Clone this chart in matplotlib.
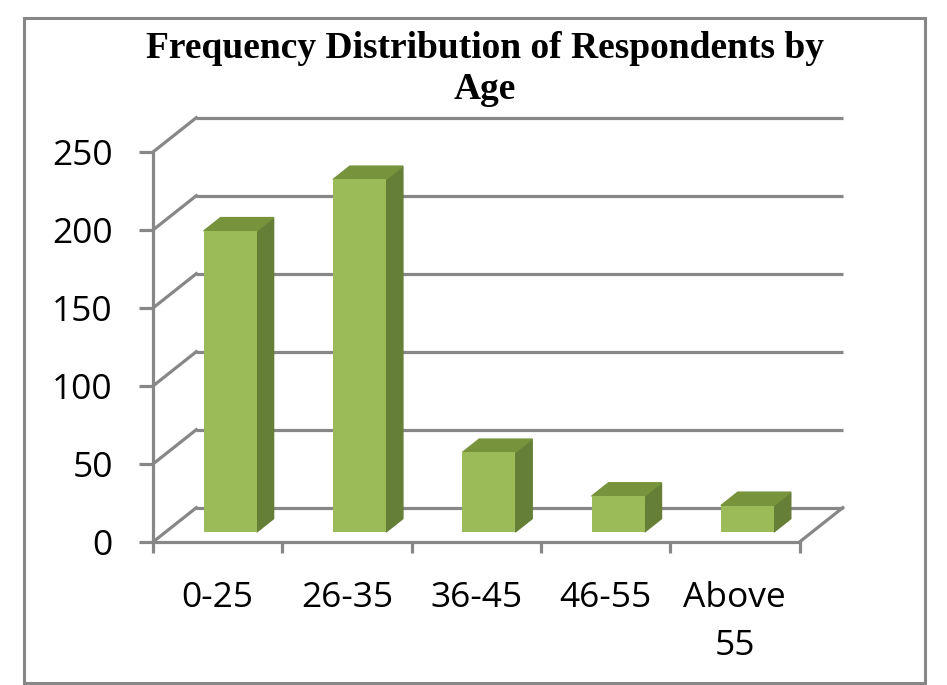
import matplotlib
matplotlib.use("Agg")
import matplotlib.pyplot as plt
import numpy as np
from matplotlib.patches import Polygon, Rectangle

categories = ["0-25", "26-35", "36-45", "46-55", "Above\n55"]
counts = [193, 226, 51, 23, 17]
y_ticks = [0, 50, 100, 150, 200, 250]

GRAY = "#878787"
FRONT = "#9bbb59"
SIDE = "#657f36"
TOP = "#77933c"

# fake 3d: depth of the floor in (category, value) units
DX, DY = 0.335, 22.0
# bars sit between these fractions of the depth
F0, F1 = 0.29, 0.68
BAR_W = 0.41

fig = plt.figure(figsize=(9.47, 6.85), dpi=100)
W, H = 947, 685
ax = fig.add_axes([153 / W, 1 - 542 / H, 646.5 / W, 390 / H])
ax.set_xlim(-0.5, 4.5)
ax.set_ylim(0, 250)
ax.patch.set_visible(False)
for s in ["top", "right"]:
    ax.spines[s].set_visible(False)
for s in ["left", "bottom"]:
    ax.spines[s].set_color(GRAY)
    ax.spines[s].set_linewidth(2.3)
    ax.spines[s].set_zorder(6)

lab_font = dict(family="Open Sans", size=25.5)

# y axis
ax.set_yticks(y_ticks)
ax.set_yticklabels([str(v) for v in y_ticks], fontdict=lab_font)
ax.tick_params(axis="y", length=10, width=2.3, color=GRAY, pad=19)

# x axis: ticks on boundaries, labels on centres
x = np.arange(len(categories))
ax.set_xticks(np.arange(-0.5, len(categories)), labels=[])
ax.set_xticks(x, labels=categories, minor=True)
ax.tick_params(axis="x", which="major", length=8, width=2.3, color=GRAY)
ax.tick_params(axis="x", which="minor", length=0, pad=28)
for lab in ax.get_xticklabels(minor=True):
    lab.set_fontfamily("Open Sans")
    lab.set_fontsize(25.5)
    lab.set_linespacing(1.55)

# walls and floor
x0, x1 = -0.5, len(categories) - 0.5
for v in y_ticks:
    ax.plot([x0 + DX, x1 + DX], [v + DY, v + DY], color=GRAY, lw=2.3,
            clip_on=False, zorder=1, solid_capstyle="butt")
    ax.plot([x0, x0 + DX], [v, v + DY], color=GRAY, lw=2.3,
            clip_on=False, zorder=1)
ax.plot([x1, x1 + DX], [0, DY], color=GRAY, lw=2.3, clip_on=False, zorder=1)

# bars
ox, oy = F0 * DX, F0 * DY
bdx, bdy = (F1 - F0) * DX, (F1 - F0) * DY
ax.bar(x + ox, counts, width=BAR_W, bottom=oy, color=FRONT, zorder=4,
       clip_on=False)
for xi, v in zip(x, counts):
    xl = xi + ox - BAR_W / 2
    xr = xi + ox + BAR_W / 2
    side = Polygon([(xr, oy), (xr + bdx, oy + bdy), (xr + bdx, v + oy + bdy),
                    (xr, v + oy)], closed=True, color=SIDE, zorder=3,
                   clip_on=False)
    top = Polygon([(xl, v + oy), (xr, v + oy), (xr + bdx, v + oy + bdy),
                   (xl + bdx, v + oy + bdy)], closed=True, color=TOP,
                  zorder=3, clip_on=False)
    ax.add_patch(side)
    ax.add_patch(top)

# title
fig.text(485 / W, 1 - 31 / H, "Frequency Distribution of Respondents by\nAge",
         ha="center", va="top", family="Liberation Serif", weight="bold",
         size=27, linespacing=1.22)

# outer border
fig.patches.append(Rectangle((24 / W, 2 / H), 901 / W, 665 / H,
                             transform=fig.transFigure, fill=False,
                             edgecolor=GRAY, lw=2.2))

fig.savefig("out.png", dpi=100)
